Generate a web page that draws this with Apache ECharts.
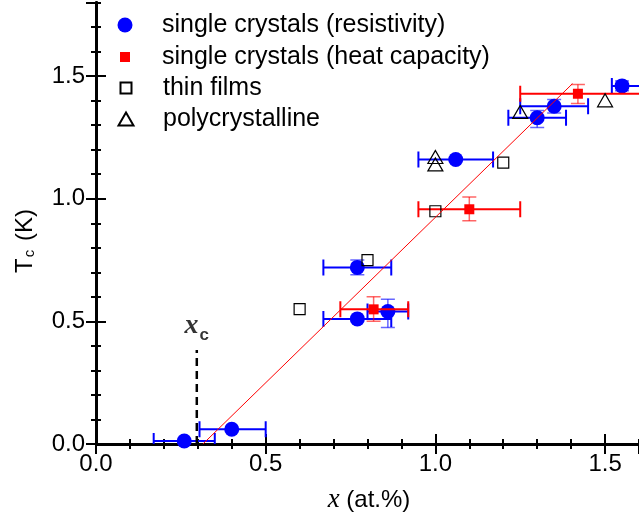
<!DOCTYPE html>
<html><head><meta charset="utf-8">
<script src="https://cdn.jsdelivr.net/npm/echarts@6/dist/echarts.min.js"></script>
<style>html,body{margin:0;padding:0;background:#fff}#c{width:639px;height:528px}</style>
</head><body><div id="c"></div>
<script>
// ---- data ----
const seriesNames = ['single crystals (resistivity)', 'single crystals (heat capacity)', 'thin films', 'polycrystalline'];
// single crystals (resistivity)
const resX   = [0.26, 0.40, 0.77, 0.86, 0.77, 1.06, 1.30, 1.35, 1.55];
const resY   = [0.012, 0.06, 0.51, 0.54, 0.72, 1.16, 1.33, 1.377, 1.46];
const resXLo = [0.17, 0.305, 0.67, 0.80, 0.67, 0.95, 1.215, 1.25, 1.52];
const resXHi = [0.35, 0.50, 0.87, 0.92, 0.87, 1.17, 1.385, 1.45, 1.62];
const resYLo = [null, null, null, 0.475, 0.69, null, 1.29, 1.35, 1.44];
const resYHi = [null, null, null, 0.59, 0.75, null, 1.36, 1.405, 1.48];
// single crystals (heat capacity)
const heatX   = [0.818, 1.10, 1.42];
const heatY   = [0.549, 0.957, 1.428];
const heatXLo = [0.72, 0.95, 1.25];
const heatXHi = [0.92, 1.25, 1.65];
const heatYLo = [0.50, 0.91, 1.388];
const heatYHi = [0.60, 1.007, 1.466];
// thin films
const filmX = [0.60, 0.80, 1.00, 1.20];
const filmY = [0.55, 0.75, 0.949, 1.147];
// polycrystalline
const polyX = [1.00, 1.00, 1.25, 1.50];
const polyY = [1.17, 1.14, 1.354, 1.401];
// linear fit
const fitX = [0.315, 1.404];
const fitY = [0.0, 1.469];
// critical concentration marker
const xcX = 0.297;
const xcLineY = [0.0, 0.383];
const xcLabelY = 0.383;
// axes
const xMin = 0, xMax = 1.6, yMin = 0, yMax = 1.8;
const majorStep = 0.5, minorStep = 0.1;

// ---- helpers ----
const zip = (a, b) => a.map((v, i) => [v, b[i]]);
const nz = v => (v === null || v === undefined) ? '-' : v;
function errData(x, y, xlo, xhi, ylo, yhi) {
  return x.map((v, i) => [v, y[i], nz(xlo[i]), nz(xhi[i]), nz(ylo[i]), nz(yhi[i])]);
}
function errRenderer(color, capColor) {
  return function (params, api) {
    const x = api.value(0), y = api.value(1);
    const xlo = api.value(2), xhi = api.value(3), ylo = api.value(4), yhi = api.value(5);
    const ch = [];
    const capH = 8, capW = 7;
    if (!isNaN(ylo) && !isNaN(yhi)) {
      const a = api.coord([x, ylo]), b = api.coord([x, yhi]);
      ch.push({ type: 'line', shape: { x1: a[0], y1: a[1], x2: b[0], y2: b[1] }, style: { stroke: capColor, lineWidth: 1.5 } });
      ch.push({ type: 'line', shape: { x1: a[0] - capW, y1: a[1], x2: a[0] + capW, y2: a[1] }, style: { stroke: capColor, lineWidth: 1.5 } });
      ch.push({ type: 'line', shape: { x1: b[0] - capW, y1: b[1], x2: b[0] + capW, y2: b[1] }, style: { stroke: capColor, lineWidth: 1.5 } });
    }
    if (!isNaN(xlo) && !isNaN(xhi)) {
      const a = api.coord([xlo, y]), b = api.coord([xhi, y]);
      ch.push({ type: 'line', shape: { x1: a[0], y1: a[1], x2: b[0], y2: b[1] }, style: { stroke: color, lineWidth: 2 } });
      ch.push({ type: 'line', shape: { x1: a[0], y1: a[1] - capH, x2: a[0], y2: a[1] + capH }, style: { stroke: color, lineWidth: 2 } });
      ch.push({ type: 'line', shape: { x1: b[0], y1: b[1] - capH, x2: b[0], y2: b[1] + capH }, style: { stroke: color, lineWidth: 2 } });
    }
    return { type: 'group', children: ch };
  };
}

const FONT = 'Liberation Sans, Arial, sans-serif';
const axisLine = { show: true, lineStyle: { color: '#000', width: 2.5 } };
const fmt1 = v => (Math.abs(v / majorStep - Math.round(v / majorStep)) < 1e-6 && v <= 1.5 + 1e-9) ? v.toFixed(1) : '';

function mkX(position, major, labels) {
  return {
    type: 'value', position, min: xMin, max: xMax,
    interval: major ? majorStep : minorStep,
    axisLine,
    axisTick: { show: true, inside: true, length: major ? 10 : 5, lineStyle: { color: '#000', width: 2 } },
    axisLabel: { show: labels, margin: 8, color: '#000', fontSize: 24, fontFamily: FONT, formatter: fmt1, showMaxLabel: false },
    splitLine: { show: false }
  };
}
function mkY(position, major, labels) {
  return {
    type: 'value', position, min: yMin, max: yMax,
    interval: major ? majorStep : minorStep,
    axisLine,
    axisTick: { show: true, inside: true, length: major ? 10 : 5, lineStyle: { color: '#000', width: 2 } },
    axisLabel: { show: labels, margin: 11, color: '#000', fontSize: 24, fontFamily: FONT, formatter: fmt1, showMaxLabel: false },
    splitLine: { show: false }
  };
}

function legendFor(name, centerY, iconW, iconH) {
  const left = 125 - iconW / 2;
  return {
    data: [name], orient: 'vertical', left: left, top: centerY - 14, padding: 0,
    itemWidth: iconW, itemHeight: iconH, selectedMode: false,
    textStyle: { color: '#000', fontSize: 25, fontFamily: FONT, lineHeight: 28, padding: [0, 0, 0, 162 - (left + iconW + 5)] }
  };
}

const chart = echarts.init(document.getElementById('c'), null, { renderer: 'canvas' });
chart.setOption({
  animation: false,
  backgroundColor: '#fff',
  grid: { left: 96, top: 2.5, width: 548.8, height: 441.5, containLabel: false },
  xAxis: [mkX('bottom', true, true), mkX('bottom', false, false), mkX('top', true, false), mkX('top', false, false)],
  yAxis: [mkY('left', true, true), mkY('left', false, false), mkY('right', true, false), mkY('right', false, false)],
  legend: [
    legendFor(seriesNames[0], 25, 15, 15),
    legendFor(seriesNames[1], 57, 10, 10),
    legendFor(seriesNames[2], 88, 11, 11),
    legendFor(seriesNames[3], 119, 15, 13)
  ],
  graphic: [
    { type: 'text', x: 25, y: 241, rotation: Math.PI / 2, z: 10,
      style: { text: '{t|T}{s|c}{t| (K)}', align: 'center', verticalAlign: 'middle',
        rich: { t: { fontSize: 24, fontFamily: FONT, fill: '#000', lineHeight: 28 },
                s: { fontSize: 15, fontFamily: FONT, fill: '#000', lineHeight: 28, padding: [10, 2, 0, 1] } } } },
    { type: 'text', x: 369, y: 500, z: 10,
      style: { text: '{i|x}{t| (at.%)}', align: 'center', verticalAlign: 'middle',
        rich: { i: { fontSize: 27, fontFamily: 'Liberation Serif, serif', fontStyle: 'italic', fill: '#000' },
                t: { fontSize: 24, fontFamily: FONT, fill: '#000' } } } }
  ],
  series: [
    { type: 'custom', name: 'resErr', z: 2, clip: true, renderItem: errRenderer('#0000ff', 'rgba(0,0,255,0.6)'),
      encode: { x: 0, y: 1 }, data: errData(resX, resY, resXLo, resXHi, resYLo, resYHi) },
    { type: 'scatter', name: seriesNames[0], z: 3, symbol: 'circle', symbolSize: 15,
      itemStyle: { color: '#0000ff', opacity: 1 }, data: zip(resX, resY) },
    { type: 'custom', name: 'heatErr', z: 4, clip: true, renderItem: errRenderer('#ff0000', 'rgba(255,0,0,0.6)'),
      encode: { x: 0, y: 1 }, data: errData(heatX, heatY, heatXLo, heatXHi, heatYLo, heatYHi) },
    { type: 'scatter', name: seriesNames[1], z: 5, symbol: 'rect', symbolSize: 10,
      itemStyle: { color: '#ff0000', opacity: 1 }, data: zip(heatX, heatY) },
    { type: 'scatter', name: seriesNames[2], z: 6, symbol: 'rect', symbolSize: 11,
      itemStyle: { color: 'rgba(255,255,255,0)', borderColor: '#000', borderWidth: 1.2, opacity: 1 }, data: zip(filmX, filmY) },
    { type: 'scatter', name: seriesNames[3], z: 6, symbol: 'triangle', symbolSize: [15, 13],
      itemStyle: { color: 'rgba(255,255,255,0)', borderColor: '#000', borderWidth: 1.2, opacity: 1 }, data: zip(polyX, polyY) },
    { type: 'line', name: 'fit', z: 7, showSymbol: false, symbol: 'none', lineStyle: { color: '#ff0000', width: 1 },
      data: zip(fitX, fitY), silent: true },
    { type: 'line', name: 'xc', z: 7, showSymbol: false, symbol: 'none',
      lineStyle: { color: '#000', width: 2.5, type: [8, 5] }, data: xcLineY.map(y => [xcX, y]), silent: true },
    { type: 'scatter', name: 'xcLabel', z: 8, symbolSize: 0, silent: true, data: [[xcX, xcLabelY]],
      label: { show: true, position: 'top', distance: 8, formatter: '{x|x}{c|c}',
        rich: { x: { fontSize: 28, fontFamily: 'Liberation Serif, serif', fontStyle: 'italic', fontWeight: 'bold', color: '#000', lineHeight: 30, verticalAlign: 'top' },
                c: { fontSize: 17, fontFamily: FONT, fontWeight: 'bold', color: '#000', lineHeight: 17, padding: [16, 0, 0, 1] } } } }
  ]
});
</script>
</body></html>
